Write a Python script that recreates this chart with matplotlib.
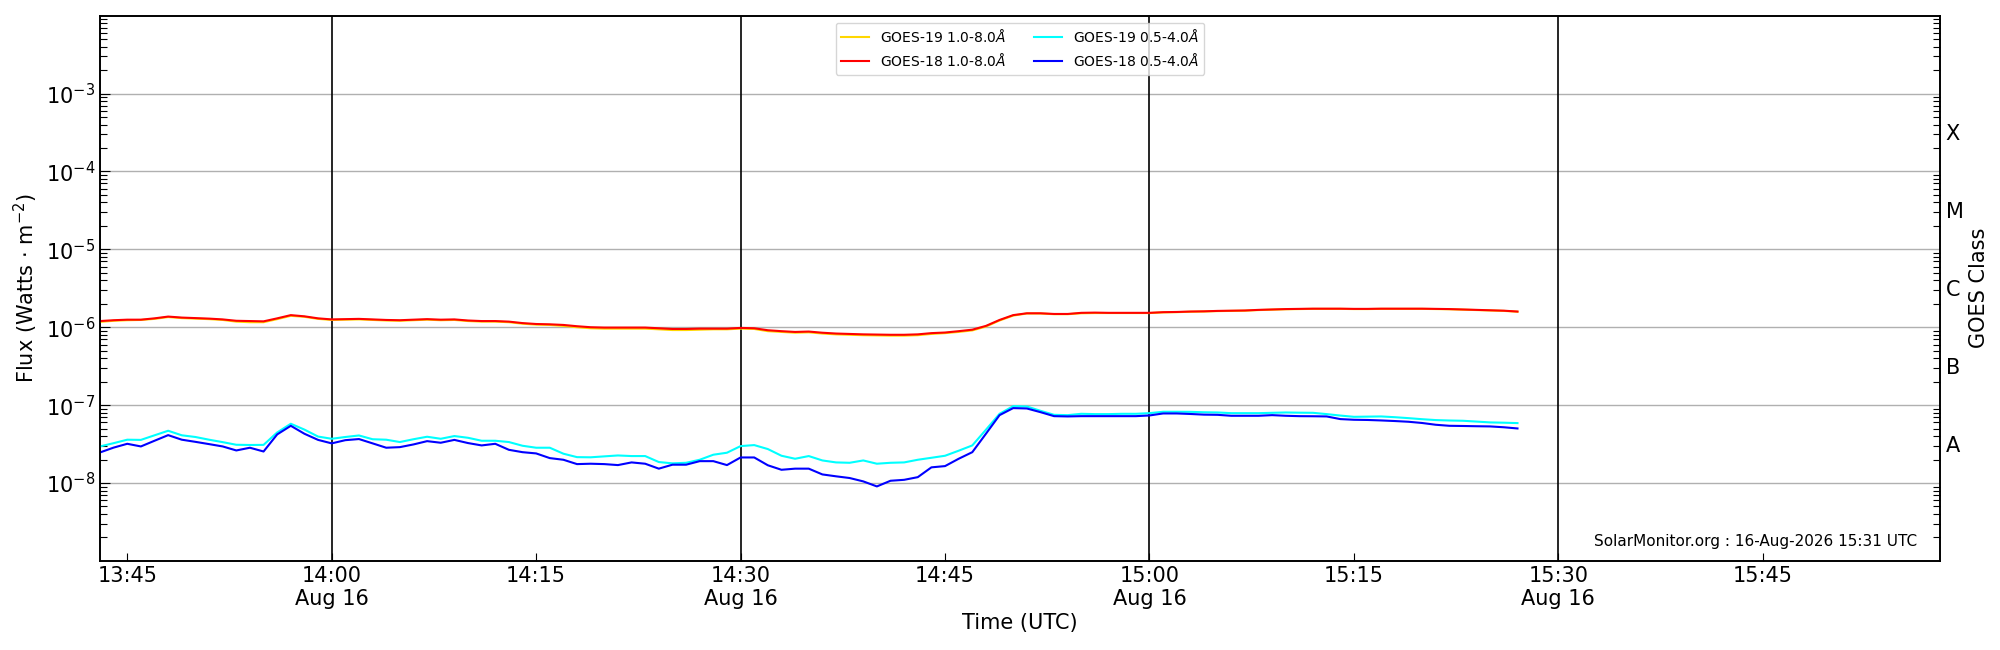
import matplotlib
matplotlib.use('Agg')
import matplotlib.pyplot as plt
import matplotlib.dates as mdates
import matplotlib.ticker as mticker
import numpy as np
import pandas as pd

# ---- data (1-minute cadence starting 13:43 UTC, 16 Aug 2026) ----
start_time = '2026-08-16 13:43'
n_points = 105
x_start = '2026-08-16 13:43'
x_end = '2026-08-16 15:58'
vlines = ['2026-08-16 14:00', '2026-08-16 14:30', '2026-08-16 15:00', '2026-08-16 15:30']

# GOES-18 1.0-8.0 A (units 1e-6 W/m^2)
g18_long = [1.20, 1.23, 1.25, 1.25, 1.30, 1.37, 1.33, 1.31, 1.29, 1.26, 1.21, 1.20, 1.19, 1.30, 1.43, 1.38, 1.30, 1.26, 1.27, 1.28, 1.26, 1.24, 1.23, 1.25, 1.27, 1.25, 1.26,
            1.22, 1.20, 1.20, 1.18, 1.13, 1.10, 1.09, 1.07, 1.03, 1.00, 0.99, 0.99, 0.99, 0.99, 0.97, 0.95, 0.95, 0.96, 0.96, 0.96, 0.98, 0.97, 0.915, 0.89, 0.87, 0.88, 0.85,
            0.83, 0.82, 0.81, 0.805, 0.80, 0.80, 0.81, 0.84, 0.855, 0.89, 0.93, 1.04, 1.24, 1.43, 1.51, 1.51, 1.48, 1.48, 1.53, 1.54, 1.53, 1.53, 1.53, 1.53, 1.56, 1.57,
            1.59, 1.60, 1.62, 1.63, 1.64, 1.67, 1.69, 1.71, 1.72, 1.73, 1.73, 1.73, 1.72, 1.72, 1.73, 1.73, 1.73, 1.73, 1.72, 1.71, 1.69, 1.67, 1.65, 1.63, 1.59]

# GOES-19 1.0-8.0 A (units 1e-6 W/m^2)
g19_long = [1.17, 1.21, 1.23, 1.24, 1.28, 1.35, 1.31, 1.29, 1.27, 1.24, 1.18, 1.16, 1.16, 1.27, 1.40, 1.36, 1.28, 1.24, 1.25, 1.26, 1.24, 1.22, 1.21, 1.23, 1.25, 1.23, 1.24,
            1.20, 1.18, 1.18, 1.16, 1.11, 1.08, 1.07, 1.04, 1.00, 0.97, 0.96, 0.96, 0.96, 0.96, 0.94, 0.92, 0.92, 0.93, 0.94, 0.94, 0.96, 0.95, 0.89, 0.87, 0.85, 0.86, 0.83,
            0.81, 0.80, 0.79, 0.785, 0.78, 0.78, 0.79, 0.82, 0.84, 0.87, 0.91, 1.02, 1.22, 1.41, 1.50, 1.50, 1.47, 1.47, 1.51, 1.52, 1.52, 1.52, 1.52, 1.52, 1.55, 1.56,
            1.58, 1.59, 1.61, 1.62, 1.63, 1.66, 1.68, 1.70, 1.71, 1.72, 1.72, 1.72, 1.71, 1.71, 1.72, 1.72, 1.72, 1.72, 1.71, 1.70, 1.68, 1.66, 1.64, 1.62, 1.58]

# GOES-19 0.5-4.0 A (units 1e-8 W/m^2)
g19_short = [2.95, 3.25, 3.60, 3.58, 4.10, 4.69, 4.10, 3.90, 3.60, 3.35, 3.10, 3.08, 3.09, 4.46, 5.77, 4.85, 3.95, 3.70, 3.90, 4.08, 3.65, 3.60, 3.36, 3.65, 3.93, 3.70, 4.01,
             3.81, 3.49, 3.49, 3.36, 3.01, 2.84, 2.84, 2.38, 2.15, 2.14, 2.20, 2.26, 2.22, 2.22, 1.86, 1.79, 1.82, 1.99, 2.31, 2.45, 2.98, 3.07, 2.73, 2.24, 2.05, 2.22, 1.95,
             1.84, 1.82, 1.95, 1.77, 1.82, 1.84, 1.99, 2.11, 2.24, 2.60, 3.04, 4.83, 7.74, 9.70, 9.61, 8.46, 7.51, 7.44, 7.74, 7.67, 7.67, 7.74, 7.74, 7.89, 8.22, 8.22,
             8.20, 8.10, 8.05, 7.89, 7.89, 7.89, 7.97, 8.05, 8.00, 7.97, 7.67, 7.35, 7.08, 7.12, 7.16, 7.00, 6.81, 6.60, 6.43, 6.35, 6.30, 6.15, 6.00, 5.95, 5.88]

# GOES-18 0.5-4.0 A (units 1e-8 W/m^2)
g18_short = [2.47, 2.85, 3.19, 2.95, 3.49, 4.12, 3.60, 3.38, 3.16, 2.95, 2.62, 2.84, 2.54, 4.21, 5.43, 4.29, 3.58, 3.23, 3.55, 3.67, 3.23, 2.84, 2.89, 3.13, 3.45, 3.29, 3.58,
             3.26, 3.04, 3.19, 2.67, 2.49, 2.40, 2.09, 1.99, 1.75, 1.77, 1.75, 1.70, 1.84, 1.77, 1.53, 1.72, 1.72, 1.91, 1.91, 1.70, 2.13, 2.13, 1.69, 1.48, 1.53, 1.53, 1.29,
             1.22, 1.16, 1.05, 0.905, 1.07, 1.10, 1.19, 1.59, 1.65, 2.05, 2.49, 4.29, 7.44, 9.16, 9.06, 8.13, 7.22, 7.16, 7.22, 7.22, 7.22, 7.22, 7.22, 7.37, 7.82, 7.82,
             7.70, 7.55, 7.51, 7.30, 7.30, 7.30, 7.44, 7.30, 7.22, 7.20, 7.16, 6.62, 6.49, 6.45, 6.36, 6.25, 6.12, 5.90, 5.60, 5.43, 5.40, 5.36, 5.33, 5.20, 5.02]

labels = [r'GOES-19 1.0-8.0$\AA$', r'GOES-18 1.0-8.0$\AA$',
          r'GOES-19 0.5-4.0$\AA$', r'GOES-18 0.5-4.0$\AA$']
class_labels = ['A', 'B', 'C', 'M', 'X']
class_pos = [10**-7.5, 10**-6.5, 10**-5.5, 10**-4.5, 10**-3.5]
flux_ticks = [1e-8, 1e-7, 1e-6, 1e-5, 1e-4, 1e-3]
stamp = 'SolarMonitor.org : 16-Aug-2026 15:31 UTC'

# ---- plot ----
times = pd.date_range(start_time, periods=n_points, freq='1min')
fig = plt.figure(figsize=(20, 6.5), dpi=100)
ax = fig.add_axes([0.05, 0.137, 0.92, 0.839])

lw = 1.5
l1, = ax.plot(times, np.array(g19_long) * 1e-6, color='#ffd700', lw=lw, label=labels[0], zorder=3)
l3, = ax.plot(times, np.array(g19_short) * 1e-8, color='#00ffff', lw=lw, label=labels[2], zorder=3)
l2, = ax.plot(times, np.array(g18_long) * 1e-6, color='#ff0000', lw=lw, label=labels[1], zorder=4)
l4, = ax.plot(times, np.array(g18_short) * 1e-8, color='#0000ff', lw=lw, label=labels[3], zorder=4)

ax.set_yscale('log')
ax.set_ylim(1e-9, 1e-2)
ax.set_xlim(pd.Timestamp(x_start), pd.Timestamp(x_end))
ax.set_yticks(flux_ticks)
ax.yaxis.set_minor_locator(mticker.LogLocator(base=10, subs=np.arange(2, 10), numticks=20))
ax.yaxis.set_minor_formatter(mticker.NullFormatter())
ax.yaxis.grid(True, which='major', color='#b0b0b0', lw=1.0, zorder=1)

for v in vlines:
    ax.axvline(pd.Timestamp(v), color='black', lw=1.2, zorder=2)

ax.xaxis.set_major_locator(mdates.MinuteLocator(byminute=[0, 15, 30, 45]))


def fmt(x, pos):
    d = mdates.num2date(x)
    s = d.strftime('%H:%M')
    if d.minute in (0, 30):
        s += '\n' + d.strftime('%b %d')
    return s


ax.xaxis.set_major_formatter(mticker.FuncFormatter(fmt))
ax.tick_params(axis='x', which='both', direction='in', length=6, width=0.8, labelsize=15, pad=3.5, top=False)
ax.tick_params(axis='y', which='major', direction='in', length=7, width=0.8, labelsize=15, right=False)
ax.tick_params(axis='y', which='minor', direction='in', length=5, width=0.8, right=False)

ax.set_xlabel('Time (UTC)', fontsize=15, labelpad=3)
ax.set_ylabel(r'Flux (Watts $\cdot$ m$^{-2}$)', fontsize=15)

ax2 = ax.twinx()
ax2.set_yscale('log')
ax2.set_ylim(1e-9, 1e-2)
ax2.set_yticks(class_pos)
ax2.set_yticklabels(class_labels)
ax2.yaxis.set_minor_locator(mticker.LogLocator(base=10, subs=np.arange(2, 10), numticks=20))
ax2.yaxis.set_minor_formatter(mticker.NullFormatter())
ax2.tick_params(axis='y', which='major', direction='in', length=0, labelsize=15, pad=4)
ax2.tick_params(axis='y', which='minor', direction='in', length=5, width=0.8)
ax2.set_ylabel('GOES Class', fontsize=15)

for a in (ax, ax2):
    for sp in a.spines.values():
        sp.set_linewidth(1.2)

ax.legend(handles=[l1, l2, l3, l4], loc='upper center', ncol=2, fontsize=10)
ax.text(0.9875, 0.022, stamp, transform=ax.transAxes, ha='right', va='bottom', fontsize=11)

fig.savefig('out.png', dpi=100)
